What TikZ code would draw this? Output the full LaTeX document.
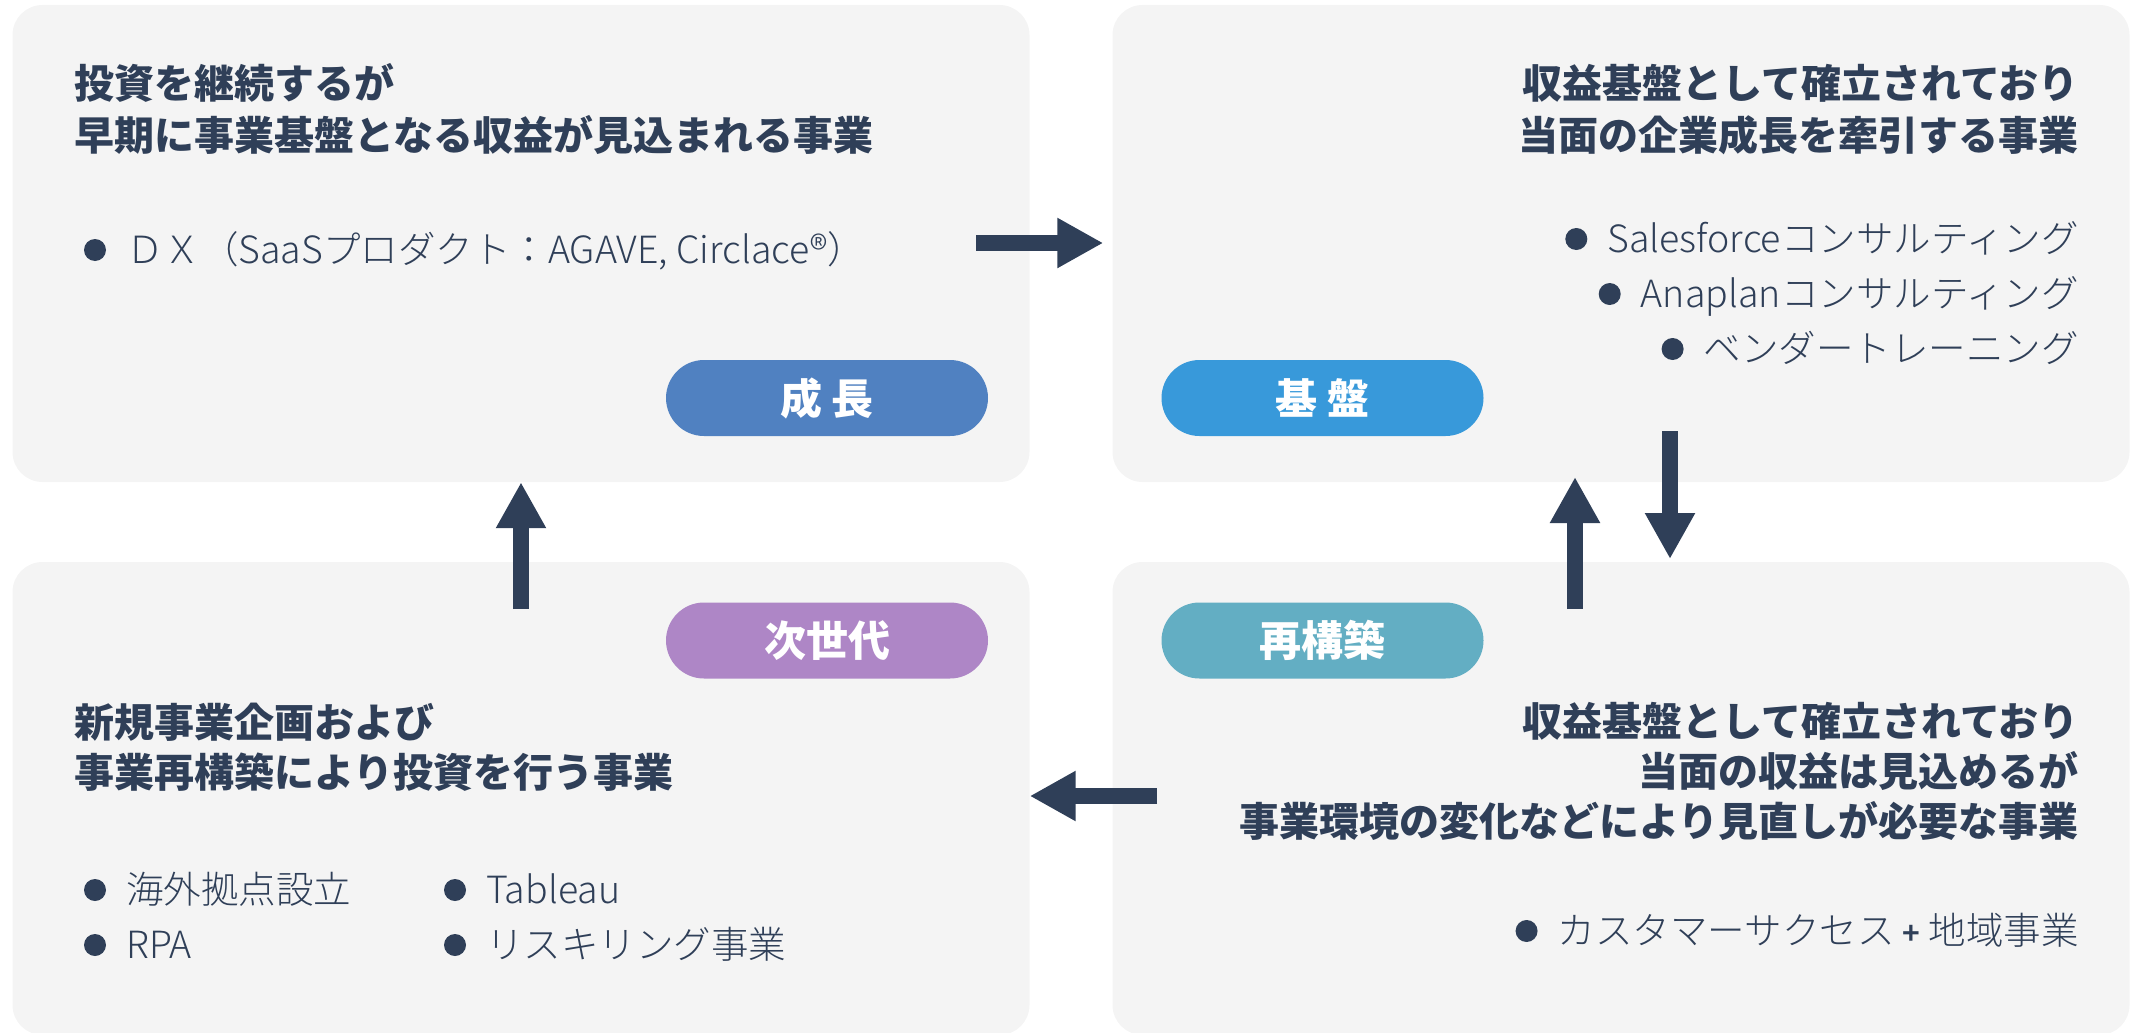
\documentclass[tikz,border=0pt]{standalone}
\usepackage{fontspec}
\setmainfont{Noto Sans CJK JP}
\newfontfamily\lightfont{Noto Sans CJK JP Light}
\usetikzlibrary{arrows.meta}
\definecolor{navy}{HTML}{2F3F58}
\definecolor{boxgray}{HTML}{F4F4F4}
\definecolor{pgrow}{HTML}{5081C1}
\definecolor{pbase}{HTML}{3899DA}
\definecolor{pnext}{HTML}{AE86C6}
\definecolor{prebuild}{HTML}{63AEC3}
\newcommand\hdfont{\bfseries\fontsize{40}{51}\selectfont}
\newcommand\blfont{\lightfont\fontsize{37.5}{55}\selectfont}
\newcommand\plfont{\bfseries\fontsize{42}{42}\selectfont}
\tikzset{
  panel/.style={fill=boxgray, rounded corners=30pt, minimum width=1017pt, inner sep=0pt},
  pill/.style={rounded corners=38pt, minimum width=322pt, minimum height=76pt, inner sep=0pt,
    text=white, font=\plfont, text height=32pt, text depth=0pt},
  hdl/.style={anchor=base west, inner sep=0pt, text=navy, font=\hdfont},
  hdr/.style={anchor=base east, inner sep=0pt, text=navy, font=\hdfont},
  bul/.style={anchor=base west, inner sep=0pt, text=navy, font=\blfont},
  bur/.style={anchor=base east, inner sep=0pt, text=navy, font=\blfont},
  bdot/.style={circle, fill=navy, minimum size=22pt, inner sep=0pt},
  arr/.style={draw=navy, line width=16pt, -{Triangle[width=47pt,length=46pt]}},
}
\begin{document}
\begin{tikzpicture}[x=1pt,y=-1pt]
\useasboundingbox (0,0) rectangle (2139,1033);
% panels
\node[panel, minimum height=477pt] (tl) at (521,243.5) {};
\node[panel, minimum height=477pt] (tr) at (1621,243.5) {};
\node[panel, minimum height=473pt] (bl) at (521,798.5) {};
\node[panel, minimum height=473pt] (br) at (1621,798.5) {};
% pills
\node[pill, fill=pgrow] (p1) at (827,398) {成 長};
\node[pill, fill=pbase] (p2) at (1322.5,398) {基 盤};
\node[pill, fill=pnext] (p3) at (827,640.5) {次世代};
\node[pill, fill=prebuild] (p4) at (1322.5,640.5) {再構築};
% top-left
\node[hdl] (tlh1) at (74,99) {投資を継続するが};
\node[hdl] (tlh2) at (74,150) {早期に事業基盤となる収益が見込まれる事業};
\node[bul] (tlb1) at (126,263) {ＤＸ（SaaSプロダクト：AGAVE, Circlace®）};
\node[bdot] (tld1) at ([shift={(-31,-13)}]tlb1.base west) {};
% top-right
\node[hdr] (trh1) at (2079,99) {収益基盤として確立されており};
\node[hdr] (trh2) at (2079,150) {当面の企業成長を牽引する事業};
\node[bur] (trb1) at (2079,252) {Salesforceコンサルティング};
\node[bur] (trb2) at (2079,307) {Anaplanコンサルティング};
\node[bur] (trb3) at (2079,362) {ベンダートレーニング};
\node[bdot] (trd1) at ([shift={(-31,-13)}]trb1.base west) {};
\node[bdot] (trd2) at ([shift={(-31,-13)}]trb2.base west) {};
\node[bdot] (trd3) at ([shift={(-31,-13)}]trb3.base west) {};
% bottom-right
\node[hdr] (brh1) at (2079,736) {収益基盤として確立されており};
\node[hdr] (brh2) at (2079,786) {当面の収益は見込めるが};
\node[hdr] (brh3) at (2079,836) {事業環境の変化などにより見直しが必要な事業};
\node[bur] (brb1) at (2079,944) {カスタマーサクセス {\bfseries\fontsize{30}{30}\selectfont +} 地域事業};
\node[bdot] (brd1) at ([shift={(-31,-13)}]brb1.base west) {};
% bottom-left
\node[hdl] (blh1) at (74,737) {新規事業企画および};
\node[hdl] (blh2) at (74,787) {事業再構築により投資を行う事業};
\node[bul] (blb1) at (126,903) {海外拠点設立};
\node[bul] (blb2) at (126,958) {RPA};
\node[bul] (blb3) at (486,903) {Tableau};
\node[bul] (blb4) at (486,958) {リスキリング事業};
\node[bdot] (bld1) at ([shift={(-31,-13)}]blb1.base west) {};
\node[bdot] (bld2) at ([shift={(-31,-13)}]blb2.base west) {};
\node[bdot] (bld3) at ([shift={(-31,-13)}]blb3.base west) {};
\node[bdot] (bld4) at ([shift={(-31,-13)}]blb4.base west) {};
% arrows
\coordinate (a1s) at (976,243);
\coordinate (a1e) at (tr.west |- a1s);
\draw[arr] (a1s) -- ([xshift=-9pt]a1e);
\coordinate (a2s) at (521,609);
\draw[arr] (a2s) -- (tl.south);
\coordinate (a3s) at (1575,609);
\coordinate (a3e) at (1575,477);
\draw[arr] (a3s) -- (a3e);
\coordinate (a4s) at (1670,431);
\coordinate (a4e) at (1670,559);
\draw[arr] (a4s) -- (a4e);
\coordinate (a5s) at (1157,796);
\coordinate (a5e) at (tl.east |- a5s);
\draw[arr] (a5s) -- (a5e);
\end{tikzpicture}
\end{document}
